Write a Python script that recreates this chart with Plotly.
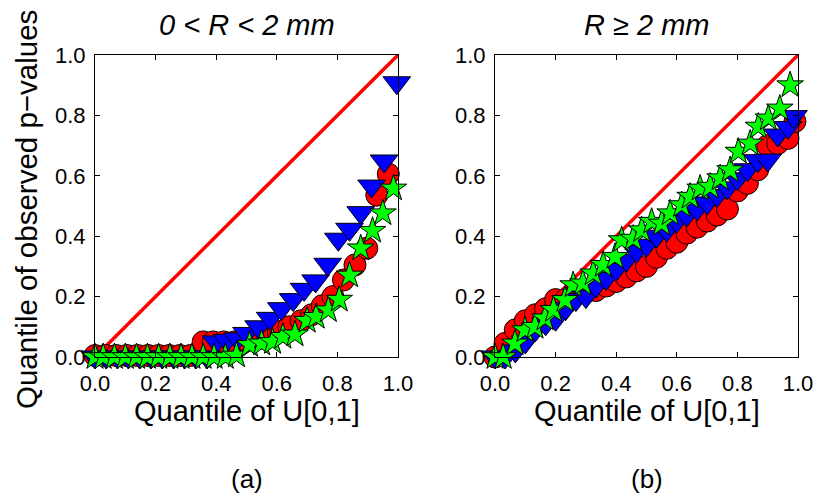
import plotly.graph_objects as go

# ---------------- data ----------------
# panel (a): 0 < R < 2 mm
a_red_x = [0.00, 0.035, 0.07, 0.105, 0.14, 0.175, 0.21, 0.245, 0.28, 0.315, 0.357, 0.39, 0.425, 0.46,
           0.50, 0.535, 0.57, 0.605, 0.64, 0.68, 0.715, 0.75, 0.785, 0.82, 0.858, 0.897, 0.93, 0.968]
a_red_y = [0.005, 0.005, 0.005, 0.005, 0.005, 0.005, 0.005, 0.005, 0.005, 0.005, 0.05, 0.05, 0.05, 0.05,
           0.055, 0.06, 0.07, 0.085, 0.10, 0.12, 0.14, 0.17, 0.20, 0.255, 0.305, 0.36, 0.536, 0.606]

a_blue_x = [0.00, 0.037, 0.074, 0.11, 0.148, 0.185, 0.222, 0.26, 0.296, 0.333, 0.37,
            0.40, 0.435, 0.47, 0.50, 0.54, 0.578, 0.615, 0.654, 0.69, 0.728, 0.768, 0.803, 0.84,
            0.877, 0.913, 0.954, 0.996]
a_blue_y = [0.0, 0.0, 0.0, 0.0, 0.0, 0.0, 0.0, 0.0, 0.0, 0.0, 0.0,
            0.05, 0.055, 0.06, 0.078, 0.10, 0.128, 0.16, 0.19, 0.224, 0.252, 0.307, 0.39, 0.423,
            0.478, 0.566, 0.649, 0.908]

a_green_x = [0.00, 0.027, 0.064, 0.10, 0.137, 0.173, 0.21, 0.247, 0.284, 0.32, 0.357, 0.393, 0.43, 0.467,
             0.51, 0.55, 0.586, 0.62, 0.66, 0.70, 0.73, 0.77, 0.806, 0.84, 0.877, 0.916, 0.95, 0.985]
a_green_y = [0.0, 0.0, 0.0, 0.0, 0.0, 0.0, 0.0, 0.0, 0.0, 0.0, 0.0, 0.0, 0.0, 0.005,
             0.04, 0.045, 0.05, 0.067, 0.075, 0.12, 0.133, 0.155, 0.19, 0.27, 0.36, 0.418, 0.476, 0.558]

# panel (b): R >= 2 mm
b_red_x = [0.000, 0.033, 0.067, 0.100, 0.133, 0.167, 0.200, 0.233, 0.267, 0.300, 0.333, 0.367, 0.400,
           0.433, 0.467, 0.500, 0.533, 0.567, 0.600, 0.633, 0.667, 0.700, 0.733, 0.767, 0.800, 0.833,
           0.867, 0.900, 0.933, 0.967, 0.990]
b_red_y = [0.0, 0.045, 0.09, 0.12, 0.14, 0.16, 0.19, 0.19, 0.21, 0.215, 0.22, 0.235, 0.25,
           0.265, 0.285, 0.30, 0.33, 0.36, 0.38, 0.41, 0.43, 0.45, 0.47, 0.49, 0.55, 0.575,
           0.62, 0.70, 0.707, 0.724, 0.78]

b_blue_x = [0.000, 0.033, 0.067, 0.100, 0.133, 0.167, 0.200, 0.233, 0.267, 0.300, 0.333, 0.367, 0.400,
            0.433, 0.467, 0.500, 0.533, 0.567, 0.600, 0.633, 0.667, 0.700, 0.733, 0.767, 0.800, 0.833,
            0.867, 0.900, 0.933, 0.967, 0.985]
b_blue_y = [0.0, 0.0, 0.02, 0.05, 0.09, 0.11, 0.125, 0.16, 0.19, 0.20, 0.235, 0.26, 0.29,
            0.32, 0.35, 0.37, 0.40, 0.42, 0.45, 0.47, 0.49, 0.51, 0.535, 0.56, 0.59, 0.62,
            0.65, 0.652, 0.735, 0.76, 0.796]

b_green_x = [0.00, 0.027, 0.066, 0.099, 0.132, 0.165, 0.193, 0.231, 0.258, 0.29, 0.324, 0.357, 0.396,
             0.418, 0.456, 0.484, 0.517, 0.55, 0.578, 0.616, 0.644, 0.677, 0.71, 0.743, 0.776, 0.803,
             0.842, 0.869, 0.902, 0.94, 0.974]
b_green_y = [0.0, 0.0, 0.045, 0.089, 0.10, 0.128, 0.156, 0.189, 0.238, 0.244, 0.277, 0.305, 0.332,
             0.387, 0.392, 0.42, 0.448, 0.442, 0.476, 0.503, 0.531, 0.558, 0.564, 0.592, 0.619, 0.68,
             0.707, 0.763, 0.79, 0.823, 0.90]

diag = [0.0, 1.0]
ticks = [0.0, 0.2, 0.4, 0.6, 0.8, 1.0]
tick_labels = ["0.0", "0.2", "0.4", "0.6", "0.8", "1.0"]
panel_titles = ["<i>0 &lt; R &lt; 2 mm</i>", "<i>R ≥ 2 mm</i>"]
panel_tags = ["(a)", "(b)"]
x_label = "Quantile of U[0,1]"
y_label = "Quantile of observed p\u2212values"

FONT = "Liberation Sans, Arial, Helvetica, sans-serif"

fig = go.Figure()

panels = [
    ("x", "y", a_red_x, a_red_y, a_blue_x, a_blue_y, a_green_x, a_green_y),
    ("x2", "y2", b_red_x, b_red_y, b_blue_x, b_blue_y, b_green_x, b_green_y),
]
for xa, ya, rx, ry, bx, by, gx, gy in panels:
    fig.add_trace(go.Scatter(x=diag, y=diag, mode="lines", xaxis=xa, yaxis=ya,
                             line=dict(color="#ff0000", width=3.5), cliponaxis=False,
                             showlegend=False, hoverinfo="skip"))
    fig.add_trace(go.Scatter(x=rx, y=ry, mode="markers", xaxis=xa, yaxis=ya, cliponaxis=False,
                             marker=dict(symbol="circle", size=22, color="#ff0000",
                                         line=dict(color="black", width=1)),
                             showlegend=False))
    fig.add_trace(go.Scatter(x=bx, y=by, mode="markers", xaxis=xa, yaxis=ya, cliponaxis=False,
                             marker=dict(symbol="triangle-down", size=24, color="#0000ff",
                                         line=dict(color="black", width=1)),
                             showlegend=False))
    fig.add_trace(go.Scatter(x=gx, y=gy, mode="markers", xaxis=xa, yaxis=ya, cliponaxis=False,
                             marker=dict(symbol="star", size=20, color="#00ff00",
                                         line=dict(color="black", width=1)),
                             showlegend=False))

W, H = 813, 498
xdoms = [[95 / W, 398 / W], [495 / W, 798 / W]]
ydom = [(H - 357) / H, (H - 55) / H]

axis_common = dict(range=[0, 1], tickvals=ticks, ticktext=tick_labels, ticks="inside",
                   ticklen=5, tickwidth=1, tickcolor="black", showline=True, linecolor="black",
                   linewidth=1.2, mirror="ticks", showgrid=False, zeroline=False,
                   automargin=False, ticklabeloverflow="allow",
                   tickfont=dict(family=FONT, size=22, color="black"))

fig.update_layout(
    width=W, height=H, autosize=False,
    margin=dict(l=0, r=0, t=0, b=0, pad=0),
    paper_bgcolor="white", plot_bgcolor="white",
    font=dict(family=FONT, color="black"),
    xaxis=dict(domain=xdoms[0], anchor="y", ticklabelstandoff=6, **axis_common),
    yaxis=dict(domain=ydom, anchor="x", ticklabelstandoff=4, **axis_common),
    xaxis2=dict(domain=xdoms[1], anchor="y2", ticklabelstandoff=6, **axis_common),
    yaxis2=dict(domain=ydom, anchor="x2", ticklabelstandoff=4, **axis_common),
)

for i, xd in enumerate(xdoms):
    cx = (xd[0] + xd[1]) / 2
    fig.add_annotation(text=panel_titles[i], x=cx, y=1 - 25 / H, xref="paper", yref="paper",
                       xanchor="center", yanchor="middle", showarrow=False,
                       font=dict(family=FONT, size=29, color="black"))
    fig.add_annotation(text=x_label, x=cx, y=1 - 411 / H, xref="paper", yref="paper",
                       xanchor="center", yanchor="middle", showarrow=False,
                       font=dict(family=FONT, size=29, color="black"))
    fig.add_annotation(text=panel_tags[i], x=cx, y=1 - 479 / H, xref="paper", yref="paper",
                       xanchor="center", yanchor="middle", showarrow=False,
                       font=dict(family=FONT, size=26, color="black"))

fig.add_annotation(text=y_label, x=26 / W, y=1 - 210 / H, xref="paper", yref="paper",
                   xanchor="center", yanchor="middle", textangle=-90, showarrow=False,
                   font=dict(family=FONT, size=29.5, color="black"))

fig.write_html("out.html", config={"displayModeBar": False},
               post_script="document.body.style.margin='0';")
